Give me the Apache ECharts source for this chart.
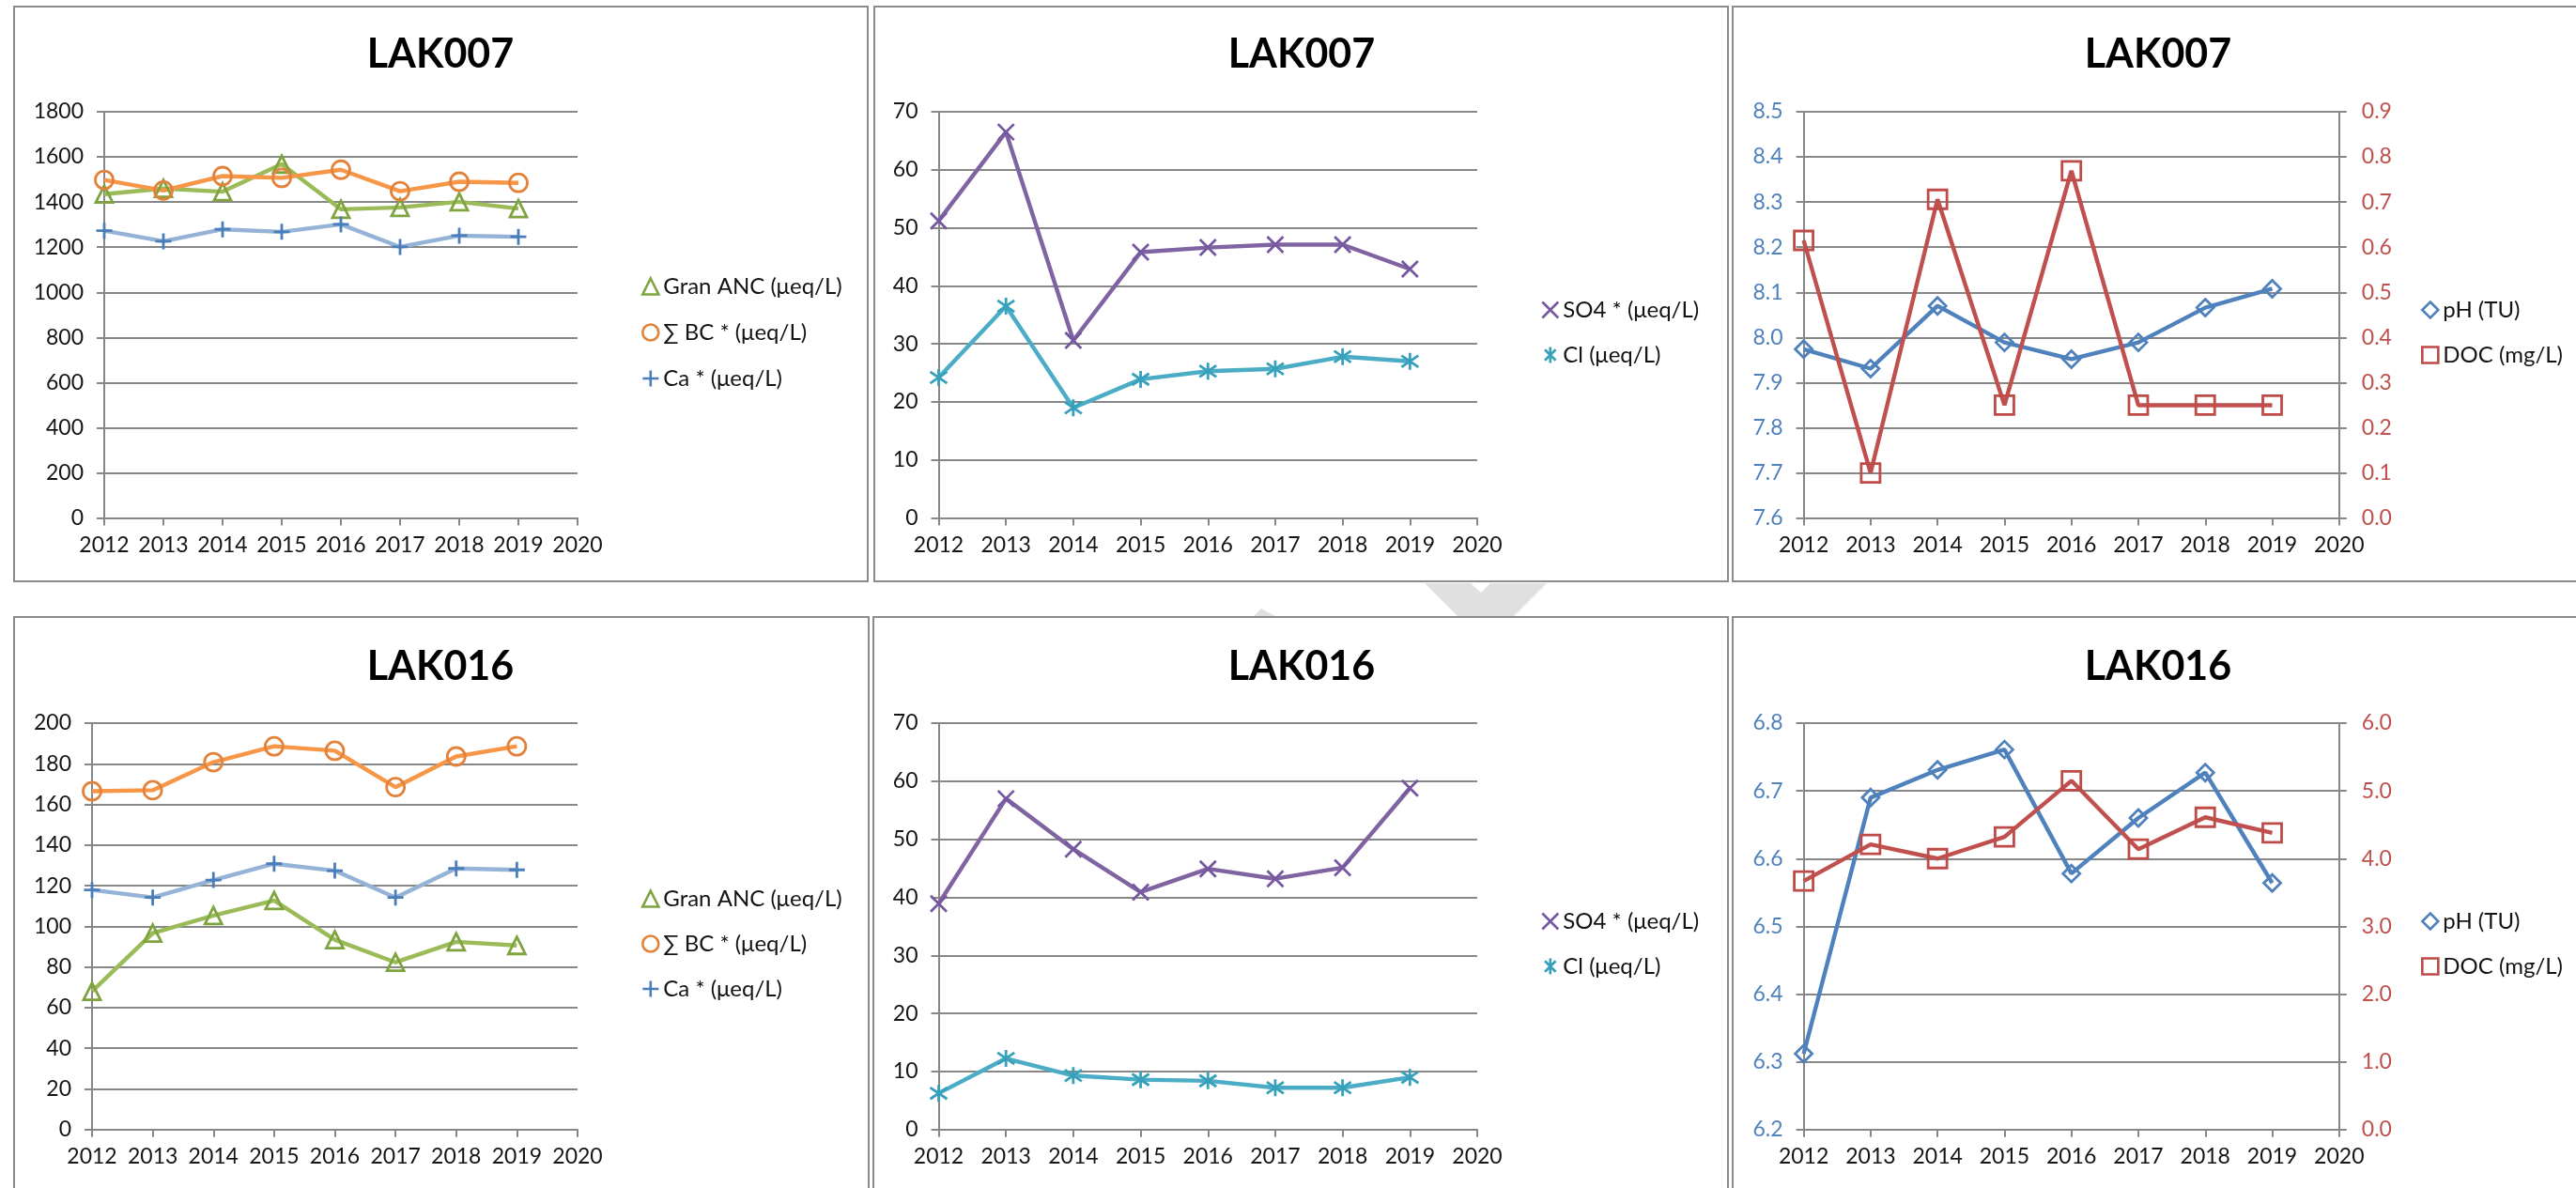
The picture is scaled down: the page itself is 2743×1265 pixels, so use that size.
<!DOCTYPE html>
<html>
<head>
<meta charset="utf-8">
<script src="https://cdn.jsdelivr.net/npm/echarts@6/dist/echarts.min.js"></script>
<style>
html,body{margin:0;padding:0;background:#fff;}
#chart{width:2743px;height:1265px;}
</style>
</head>
<body>
<div id="chart"></div>
<script>
// ---- data ----
const years = [2012, 2013, 2014, 2015, 2016, 2017, 2018, 2019];
const xTicks = [2012, 2013, 2014, 2015, 2016, 2017, 2018, 2019, 2020];
const titles = ['LAK007', 'LAK007', 'LAK007', 'LAK016', 'LAK016', 'LAK016'];

const lak007Gran = [1435, 1460, 1446, 1568, 1368, 1376, 1401, 1371];
const lak007BC   = [1498, 1451, 1515, 1507, 1543, 1448, 1490, 1485];
const lak007Ca   = [1273, 1226, 1279, 1268, 1301, 1201, 1251, 1246];
const lak007SO4  = [51.2, 66.5, 30.6, 45.8, 46.6, 47.1, 47.1, 42.9];
const lak007Cl   = [24.2, 36.5, 19.0, 23.9, 25.3, 25.7, 27.8, 27.0];
const lak007pH   = [7.974, 7.931, 8.070, 7.989, 7.952, 7.989, 8.066, 8.108];
const lak007DOC  = [0.615, 0.10, 0.706, 0.25, 0.769, 0.25, 0.25, 0.25];

const lak016Gran = [68.0, 96.7, 105.3, 112.7, 93.4, 82.3, 92.4, 90.6];
const lak016BC   = [166.5, 167.0, 180.8, 188.6, 186.4, 168.5, 183.6, 188.6];
const lak016Ca   = [117.9, 114.2, 122.8, 130.8, 127.4, 114.2, 128.5, 127.8];
const lak016SO4  = [38.9, 57.0, 48.3, 40.9, 44.9, 43.2, 45.1, 58.8];
const lak016Cl   = [6.25, 12.25, 9.3, 8.6, 8.4, 7.2, 7.2, 9.0];
const lak016pH   = [6.312, 6.690, 6.731, 6.761, 6.578, 6.660, 6.727, 6.564];
const lak016DOC  = [3.67, 4.21, 4.0, 4.32, 5.15, 4.14, 4.61, 4.38];

const nGran = 'Gran ANC (μeq/L)';
const nBC = '∑ BC * (μeq/L)';
const nCa = 'Ca * (μeq/L)';
const nSO4 = 'SO4 * (μeq/L)';
const nCl = 'Cl (μeq/L)';
const npH = 'pH (TU)';
const nDOC = 'DOC (mg/L)';

// ---- styles ----
const FONT = 'Lato';
const GRID_C = '#878787';
const TXT = '#141414';
const BLUE_T = '#4F81BD';
const RED_T = '#C0504D';

const SYM = {
  plus: 'path://M0,5L10,5M5,0L5,10',
  cross: 'path://M0,0L10,10M10,0L0,10',
  star: 'path://M1.6,1.6L8.4,8.4M8.4,1.6L1.6,8.4M5,0L5,10'
};

const seriesStyle = {
  gran: {line: '#9BBB59', mark: '#7EA33F', symbol: 'triangle', size: 18},
  bc:   {line: '#F79646', mark: '#E3823B', symbol: 'circle', size: 19},
  ca:   {line: '#95B3D7', mark: '#4A7EBB', symbol: SYM.plus, size: 17},
  so4:  {line: '#8064A2', mark: '#7658A0', symbol: SYM.cross, size: 17},
  cl:   {line: '#4BACC6', mark: '#37A0BA', symbol: SYM.star, size: 18},
  ph:   {line: '#4F81BD', mark: '#4F81BD', symbol: 'diamond', size: 18},
  doc:  {line: '#C0504D', mark: '#BE4B48', symbol: 'rect', size: 20}
};

// panel layout
const grids = [
  {left: 111, top: 119, width: 504, height: 432.6},
  {left: 999.5, top: 119, width: 573.5, height: 432.6},
  {left: 1920.6, top: 119, width: 570.2, height: 432.6},
  {left: 98, top: 770, width: 517, height: 432.8},
  {left: 999.5, top: 770, width: 573.5, height: 432.8},
  {left: 1920.6, top: 770, width: 570.2, height: 432.8}
];
const titlePos = [[469, 58], [1386, 58], [2298, 58], [469, 710], [1386, 710], [2298, 710]];

function pairs(arr) { return years.map((y, i) => [y, arr[i]]); }

function mkSeries(name, key, arr, gi, yi) {
  const s = seriesStyle[key];
  return {
    name: name, type: 'line', xAxisIndex: gi, yAxisIndex: yi,
    data: pairs(arr),
    symbol: s.symbol, symbolSize: s.size,
    itemStyle: {color: 'rgba(0,0,0,0)', borderColor: s.mark, borderWidth: 2.8},
    lineStyle: {color: s.line, width: 4.4},
    emphasis: {disabled: true},
    z: 3
  };
}
function legendItem(name, key) {
  const s = seriesStyle[key];
  return {name: name, icon: s.symbol,
    itemStyle: {color: 'rgba(0,0,0,0)', borderColor: s.mark, borderWidth: 2.6}};
}

const xAxes = grids.map((g, i) => ({
  type: 'value', gridIndex: i, min: 2012, max: 2020, interval: 1,
  axisLine: {show: true, onZero: false, lineStyle: {color: GRID_C, width: 2}},
  axisTick: {show: true, inside: false, length: 8, lineStyle: {color: GRID_C, width: 2}},
  axisLabel: {fontFamily: FONT, fontSize: 23, color: TXT, margin: 17,
    formatter: v => String(v)},
  splitLine: {show: false}
}));

function yAx(gi, min, max, interval, opts) {
  opts = opts || {};
  return {
    type: 'value', gridIndex: gi, min: min, max: max, interval: interval,
    position: opts.right ? 'right' : 'left',
    axisLine: {show: true, lineStyle: {color: GRID_C, width: 2}},
    axisTick: {show: true, inside: false, length: 8, lineStyle: {color: GRID_C, width: 2}},
    axisLabel: {fontFamily: FONT, fontSize: 23, color: opts.color || TXT, margin: opts.margin || 22,
      formatter: opts.dec ? (v => v.toFixed(1)) : (v => String(Math.round(v)))},
    splitLine: {show: !opts.right, lineStyle: {color: GRID_C, width: 2}}
  };
}

const yAxes = [
  yAx(0, 0, 1800, 200),
  yAx(1, 0, 70, 10),
  yAx(2, 7.6, 8.5, 0.1, {dec: true, color: BLUE_T}),
  yAx(2, 0, 0.9, 0.1, {dec: true, color: RED_T, right: true, margin: 24}),
  yAx(3, 0, 200, 20),
  yAx(4, 0, 70, 10),
  yAx(5, 6.2, 6.8, 0.1, {dec: true, color: BLUE_T}),
  yAx(5, 0, 6, 1, {dec: true, color: RED_T, right: true, margin: 24})
];

const series = [
  mkSeries(nGran, 'gran', lak007Gran, 0, 0),
  mkSeries(nBC, 'bc', lak007BC, 0, 0),
  mkSeries(nCa, 'ca', lak007Ca, 0, 0),
  mkSeries(nSO4, 'so4', lak007SO4, 1, 1),
  mkSeries(nCl, 'cl', lak007Cl, 1, 1),
  mkSeries(npH, 'ph', lak007pH, 2, 2),
  mkSeries(nDOC, 'doc', lak007DOC, 2, 3),
  mkSeries(nGran, 'gran', lak016Gran, 3, 4),
  mkSeries(nBC, 'bc', lak016BC, 3, 4),
  mkSeries(nCa, 'ca', lak016Ca, 3, 4),
  mkSeries(nSO4, 'so4', lak016SO4, 4, 5),
  mkSeries(nCl, 'cl', lak016Cl, 4, 5),
  mkSeries(npH, 'ph', lak016pH, 5, 6),
  mkSeries(nDOC, 'doc', lak016DOC, 5, 7)
];

function mkLegend(left, top, gap, items) {
  return {
    orient: 'vertical', left: left, top: top, padding: 0, itemGap: gap,
    itemWidth: 17, itemHeight: 17, selectedMode: false,
    textStyle: {fontFamily: FONT, fontSize: 24, lineHeight: 24, color: TXT},
    data: items
  };
}
const legends = [
  mkLegend(683, 293, 25, [legendItem(nGran, 'gran'), legendItem(nBC, 'bc'), legendItem(nCa, 'ca')]),
  mkLegend(1641, 318, 24, [legendItem(nSO4, 'so4'), legendItem(nCl, 'cl')]),
  mkLegend(2578, 318, 24, [legendItem(npH, 'ph'), legendItem(nDOC, 'doc')]),
  mkLegend(683, 945, 24, [legendItem(nGran, 'gran'), legendItem(nBC, 'bc'), legendItem(nCa, 'ca')]),
  mkLegend(1641, 969, 24, [legendItem(nSO4, 'so4'), legendItem(nCl, 'cl')]),
  mkLegend(2578, 969, 24, [legendItem(npH, 'ph'), legendItem(nDOC, 'doc')])
];

const titleOpts = titles.map((t, i) => ({
  text: t, left: titlePos[i][0], top: titlePos[i][1], padding: 0,
  textAlign: 'center', textVerticalAlign: 'middle',
  textStyle: {fontFamily: FONT, fontWeight: 'bold', fontSize: 43, color: '#000'}
}));

const BORDER = '#8c8c8c';
const panels = [
  [15, 7, 909, 612], [931, 7, 909, 612], [1845, 7, 910, 612],
  [15, 657, 910, 660], [930, 657, 910, 660], [1845, 657, 910, 660]
];
const graphics = [
  {type: 'polygon', z: -1, silent: true,
    shape: {points: [[1517, 621], [1566, 621], [1577, 631], [1587, 621], [1647, 621], [1612, 656], [1552, 656]]},
    style: {fill: '#e0e0e0'}},
  {type: 'polygon', z: -1, silent: true,
    shape: {points: [[1335, 656], [1343, 648], [1358, 656]]},
    style: {fill: '#e0e0e0'}}
].concat(panels.map(p => ({
  type: 'rect', z: 0, silent: true,
  shape: {x: p[0], y: p[1], width: p[2], height: p[3]},
  style: {fill: 'none', stroke: BORDER, lineWidth: 2}
})));

const chart = echarts.init(document.getElementById('chart'), null, {renderer: 'canvas'});
chart.setOption({
  animation: false,
  backgroundColor: '#ffffff',
  textStyle: {fontFamily: FONT},
  title: titleOpts,
  legend: legends,
  grid: grids,
  xAxis: xAxes,
  yAxis: yAxes,
  series: series,
  graphic: graphics
});
</script>
</body>
</html>
